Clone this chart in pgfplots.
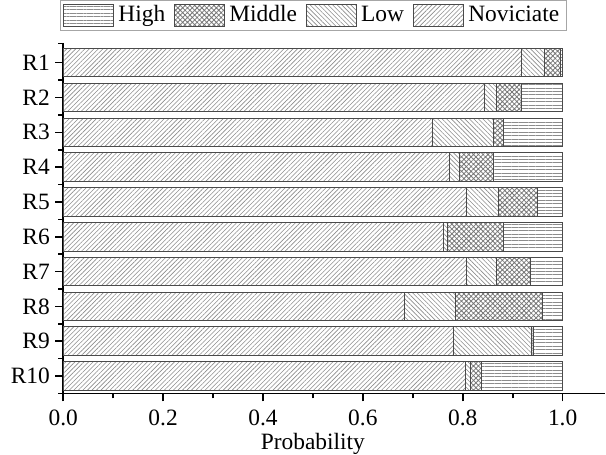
\documentclass[border=0pt]{standalone}
\usepackage{fontspec}
\setmainfont{Liberation Serif}
\usepackage{pgfplots}
\usepackage{pgfplotstable}
\pgfplotsset{compat=1.18}
\usetikzlibrary{patterns.meta}

\definecolor{hatchgray}{HTML}{8C8C8C}
\definecolor{edgegray}{HTML}{4A4A4A}

% row, Noviciate, Low, Middle, High
\pgfplotstableread{
row nov   low   mid   high
1   0.918 0.045 0.032 0.005
2   0.843 0.025 0.050 0.082
3   0.739 0.122 0.020 0.119
4   0.773 0.021 0.067 0.139
5   0.808 0.063 0.078 0.051
6   0.762 0.008 0.111 0.119
7   0.808 0.060 0.068 0.064
8   0.684 0.102 0.173 0.041
9   0.781 0.157 0.004 0.058
10  0.806 0.010 0.022 0.162
}\probtable

\begin{document}
\rmfamily\fontsize{11.7}{14}\selectfont
\begin{tikzpicture}
\begin{axis}[
    scale only axis,
    width=271pt, height=175.3pt,
    xbar stacked,
    bar width=0.82,
    xmin=0, xmax=1.085,
    ymin=0.43, ymax=10.5,
    y dir=reverse,
    axis x line*=bottom,
    axis y line*=left,
    axis line style={line width=0.9pt, -},
    xtick={0,0.2,...,1.0},
    minor xtick={0.1,0.3,...,0.9},
    ytick={1,...,10},
    yticklabels={R1,R2,R3,R4,R5,R6,R7,R8,R9,R10},
    minor ytick={0.45,1.5,2.5,...,10.5},
    tick align=outside,
    major tick length=4pt,
    minor tick length=2.5pt,
    tick style={line width=0.8pt, black},
    yticklabel style={inner xsep=2.5pt},
    /pgf/number format/assume math mode=true,
    xticklabel style={/pgf/number format/.cd, fixed, fixed zerofill, precision=1},
    xlabel={Probability},
    xlabel style={at={(ticklabel cs:0.4608)}, anchor=near ticklabel, inner sep=0pt},
    reverse legend,
    legend columns=4,
    legend style={at={(axis description cs:0.4616,1.034)}, anchor=south,
        draw=gray!70, line width=0.6pt, inner xsep=1.5pt, inner ysep=0.5pt,
        /tikz/every even column/.append style={column sep=2.6pt},
        nodes={inner sep=2pt}},
    legend image code/.code={\draw[#1] (0pt,-5.5pt) rectangle (25pt,5.5pt);},
]
\addplot[draw=edgegray, line width=0.5pt, pattern color=hatchgray, pattern={Lines[angle=45,distance=1.6pt,line width=0.3pt]}] table[x=nov, y=row] {\probtable};
\addlegendentry{Noviciate}
\addplot[draw=edgegray, line width=0.5pt, pattern color=hatchgray, pattern={Lines[angle=-45,distance=1.6pt,line width=0.3pt]}] table[x=low, y=row] {\probtable};
\addlegendentry{Low}
\addplot[draw=edgegray, line width=0.5pt, pattern color=hatchgray!85!black, pattern={Hatch[angle=45,distance=1.7pt,line width=0.4pt]}] table[x=mid, y=row] {\probtable};
\addlegendentry{Middle}
\addplot[draw=edgegray, line width=0.5pt, pattern color=hatchgray, pattern={Lines[angle=0,distance=1.7pt,line width=0.3pt]}] table[x=high, y=row] {\probtable};
\addlegendentry{High}
\end{axis}
% left margin as in the reference
\path (current axis.south west) ++(-31.6pt,0) coordinate (lm);
\path (lm);
\end{tikzpicture}
\end{document}
